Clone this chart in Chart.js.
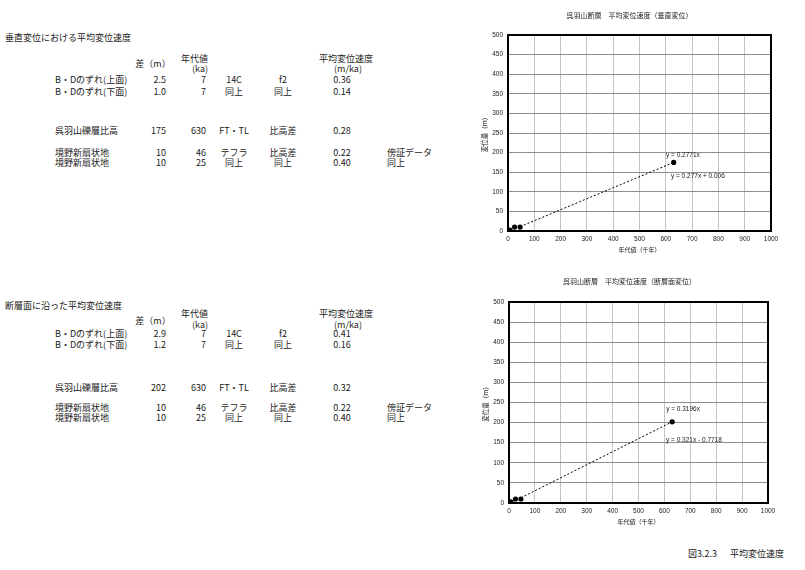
<!DOCTYPE html>
<html lang="ja">
<head>
<meta charset="utf-8">
<script src="https://cdn.jsdelivr.net/npm/chart.js@4.4.1/dist/chart.umd.min.js"></script>
<style>
  html, body { margin: 0; padding: 0; background: #fff; }
  body { width: 805px; height: 570px; position: relative; overflow: hidden;
         font-family: "Noto Sans CJK JP", "Liberation Sans", sans-serif; color: #1a1a1a; }
  .t { position: absolute; font-size: 9px; line-height: 1; white-space: nowrap; color: #1a1a1a;
       transform: translateY(-50%); }
  .r { transform: translate(-100%, -50%); }
  .c { transform: translate(-50%, -50%); }
  .wrap { position: absolute; }
  #fig { position: absolute; left: 688px; top: 553px; font-size: 9px; transform: translateY(-50%); white-space: nowrap; }
</style>
</head>
<body>
<div id="tables"></div>
<div class="wrap" style="left:470px;top:0;width:335px;height:262px;"><canvas id="chartV"></canvas></div>
<div class="wrap" style="left:470px;top:270px;width:335px;height:270px;"><canvas id="chartF"></canvas></div>
<div id="fig">図3.2.3　&nbsp;&nbsp;平均変位速度</div>
<script>
// ---- data ----
const rowNames = ["B・Dのずれ(上面)", "B・Dのずれ(下面)", "呉羽山礫層比高", "境野新扇状地", "境野新扇状地"];
const ageKa = [7, 7, 630, 46, 25];
const vertDisp = [2.5, 1.0, 175, 10, 10];
const faultDisp = [2.9, 1.2, 202, 10, 10];
const methods = ["14C", "同上", "FT・TL", "テフラ", "同上"];
const refs = ["f2", "同上", "比高差", "比高差", "同上"];
const vertRates = ["0.36", "0.14", "0.28", "0.22", "0.40"];
const faultRates = ["0.41", "0.16", "0.32", "0.22", "0.40"];
const notes = ["", "", "", "傍証データ", "同上"];

// trend lines
const vertTrendX = [46, 630];
const vertTrendY = [11, 175];
const faultTrendX = [46, 630];
const faultTrendY = [13, 202];

const xTicks = [0, 100, 200, 300, 400, 500, 600, 700, 800, 900, 1000];
const yTicks = [0, 50, 100, 150, 200, 250, 300, 350, 400, 450, 500];

// ---- tables ----
function cell(txt, x, y, cls) {
  const d = document.createElement("div");
  d.className = "t" + (cls ? " " + cls : "");
  d.style.left = x + "px";
  d.style.top = y + "px";
  d.textContent = txt;
  document.getElementById("tables").appendChild(d);
}
function fmt(v) { return v < 10 ? v.toFixed(1) : String(v); }

function drawTable(title, disp, rates, ys) {
  cell(title, 5, ys.title);
  cell("差（m）", 153, ys.diff, "c");
  cell("年代値", 181, ys.head);
  cell("(ka)", 200, ys.sub, "c");
  cell("平均変位速度", 346, ys.head, "c");
  cell("(m/ka)", 348, ys.sub, "c");
  rowNames.forEach((name, i) => {
    const y = ys.rows[i];
    cell(name, 55, y);
    cell(fmt(disp[i]), 166, y, "r");
    cell(String(ageKa[i]), 206, y, "r");
    cell(methods[i], 234, y, "c");
    cell(refs[i], 283, y, "c");
    cell(rates[i], 342, y, "c");
    if (notes[i]) cell(notes[i], 387, y);
  });
}
drawTable("垂直変位における平均変位速度", vertDisp, vertRates,
  { title: 37, head: 58, diff: 63, sub: 68, rows: [79, 90.5, 130, 152, 162] });
drawTable("断層面に沿った平均変位速度", faultDisp, faultRates,
  { title: 305, head: 313, diff: 320, sub: 323.5, rows: [333, 343.5, 387, 407, 417] });

// ---- charts ----
const frame = {
  id: "frame",
  beforeDraw(chart) {
    const { ctx } = chart;
    ctx.save();
    ctx.fillStyle = "#fff";
    ctx.fillRect(0, 0, chart.width, chart.height);
    ctx.restore();
  },
  afterDatasetsDraw(chart, args, opts) {
    const { ctx, chartArea: a, scales } = chart;
    ctx.save();
    ctx.strokeStyle = "#000";
    ctx.lineWidth = 2;
    ctx.strokeRect(a.left, a.top, a.right - a.left, a.bottom - a.top);
    ctx.fillStyle = "#1a1a1a";
    ctx.textAlign = "center";
    ctx.textBaseline = "middle";
    ctx.font = "7px 'Noto Sans CJK JP'";
    ctx.fillText(opts.title, chart.width / 2 - 8, opts.titleY);
    ctx.font = "6.5px 'Liberation Sans', 'Noto Sans CJK JP'";
    (opts.labels || []).forEach(l => {
      ctx.fillText(l.text, scales.x.getPixelForValue(l.x), scales.y.getPixelForValue(l.y));
    });
    ctx.restore();
  }
};

function makeChart(id, disp, trendX, trendY, pad, opts) {
  const pts = ageKa.map((x, i) => ({ x: x, y: disp[i] }));
  const trend = trendX.map((x, i) => ({ x: x, y: trendY[i] }));
  const tickFont = { family: "'Liberation Sans', 'Noto Sans CJK JP'", size: 6.5 };
  return new Chart(document.getElementById(id), {
    type: "scatter",
    data: {
      datasets: [
        { data: trend, showLine: true, borderColor: "#000", borderWidth: 1, borderDash: [2, 2],
          pointRadius: 0, fill: false },
        { data: pts, pointRadius: 2.6, pointBackgroundColor: "#000", pointBorderColor: "#000", pointBorderWidth: 0 },
      ],
    },
    options: {
      responsive: true,
      maintainAspectRatio: false,
      animation: false,
      layout: { padding: pad },
      plugins: { legend: { display: false }, tooltip: { enabled: false }, frame: opts },
      scales: {
        x: {
          type: "linear", min: 0, max: 1000,
          afterBuildTicks: s => { s.ticks = xTicks.map(v => ({ value: v })); },
          afterFit: s => { s.height = 22; },
          ticks: { font: tickFont, color: "#1a1a1a", padding: 4, maxRotation: 0, callback: v => String(v) },
          grid: { color: "#c4c4c4", lineWidth: 1, drawTicks: false },
          border: { display: false },
          title: { display: true, text: "年代値（千年）", font: { family: "'Noto Sans CJK JP'", size: 6 },
                   color: "#1a1a1a", padding: { top: 0, bottom: 0 } },
        },
        y: {
          type: "linear", min: 0, max: 500,
          afterBuildTicks: s => { s.ticks = yTicks.map(v => ({ value: v })); },
          afterFit: s => { s.width = 28; },
          ticks: { font: tickFont, color: "#1a1a1a", padding: 5, callback: v => String(v) },
          grid: { color: "#8c8c8c", lineWidth: 1, drawTicks: false },
          border: { display: false },
          title: { display: true, text: "変位量（m）", font: { family: "'Noto Sans CJK JP'", size: 6.5 },
                   color: "#1a1a1a", padding: { top: 1, bottom: 0 } },
        },
      },
    },
    plugins: [frame],
  });
}

makeChart("chartV", vertDisp, vertTrendX, vertTrendY,
  { left: 10, right: 34, top: 35, bottom: 9 },
  { title: "呉羽山断層　平均変位速度（垂直変位）", titleY: 15,
    labels: [{ text: "y = 0.2771x", x: 665, y: 194 }, { text: "y = 0.277x + 0.006", x: 722, y: 140 }] });

makeChart("chartF", faultDisp, faultTrendX, faultTrendY,
  { left: 11, right: 37, top: 32, bottom: 15 },
  { title: "呉羽山断層　平均変位速度（断層面変位）", titleY: 11,
    labels: [{ text: "y = 0.3196x", x: 672, y: 234 }, { text: "y = 0.321x - 0.7718", x: 714, y: 157 }] });
</script>
</body>
</html>
